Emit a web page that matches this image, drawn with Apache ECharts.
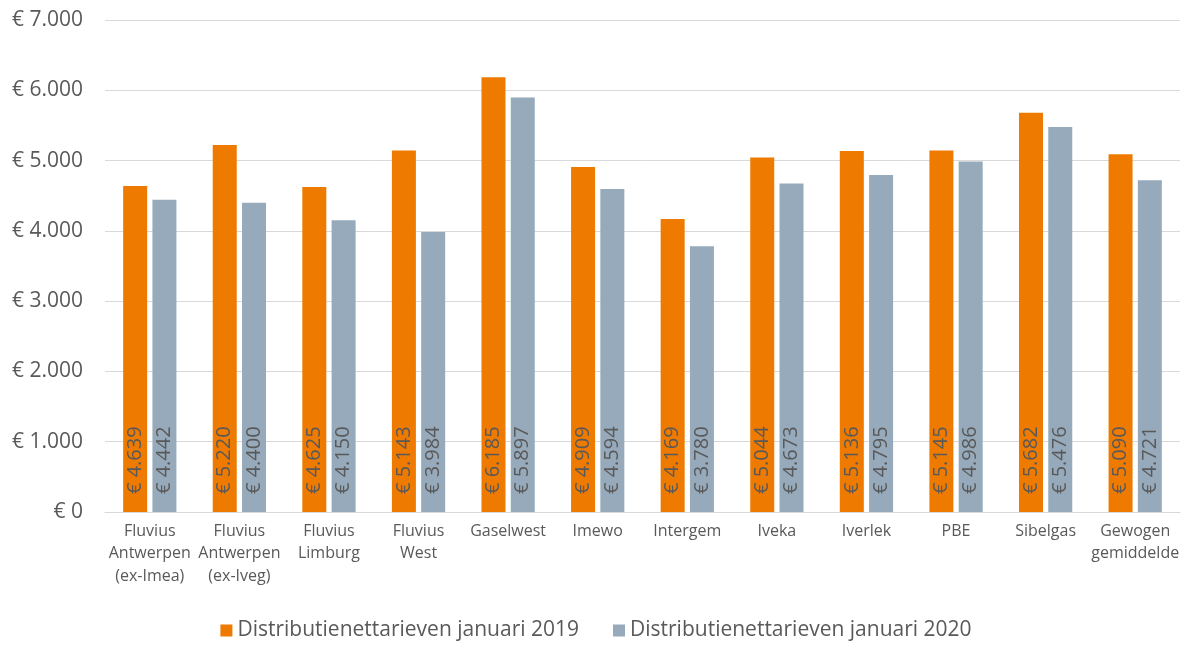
<!DOCTYPE html>
<html>
<head>
<meta charset="utf-8">
<script src="https://cdn.jsdelivr.net/npm/echarts@6/dist/echarts.min.js"></script>
<style>
  html, body { margin: 0; padding: 0; background: #fff; }
  #main { width: 1192px; height: 646px; }
</style>
</head>
<body>
<div id="main"></div>
<script>
var categories = ['Fluvius\nAntwerpen\n(ex-Imea)', 'Fluvius\nAntwerpen\n(ex-Iveg)', 'Fluvius\nLimburg', 'Fluvius\nWest',
  'Gaselwest', 'Imewo', 'Intergem', 'Iveka', 'Iverlek', 'PBE', 'Sibelgas', 'Gewogen\ngemiddelde'];
var tarief2019 = [4639, 5220, 4625, 5143, 6185, 4909, 4169, 5044, 5136, 5145, 5682, 5090];
var tarief2020 = [4442, 4400, 4150, 3984, 5897, 4594, 3780, 4673, 4795, 4986, 5476, 4721];
var seriesNames = ['Distributienettarieven januari 2019', 'Distributienettarieven januari 2020'];

var textColor = '#595959';
var font = 'Open Sans';

// 4639 -> "€ 4.639"
function euro(v) {
  var s = String(Math.round(v));
  s = s.replace(/\B(?=(\d{3})+(?!\d))/g, '.');
  return '€ ' + s;
}

var chart = echarts.init(document.getElementById('main'));

var barLabel = {
  show: true,
  position: 'insideBottom',
  rotate: 90,
  align: 'left',
  verticalAlign: 'middle',
  distance: 18,
  color: textColor,
  fontSize: 20,
  fontFamily: font,
  formatter: function (p) { return euro(p.value); }
};

var option = {
  animation: false,
  textStyle: { fontFamily: font },
  grid: { left: 105, right: 12, top: 20, bottom: 134, containLabel: false },
  legend: {
    bottom: 0,
    left: 'center',
    icon: 'rect',
    itemWidth: 12,
    itemHeight: 12,
    itemGap: 34,
    textStyle: { color: textColor, fontSize: 21, fontFamily: font },
    data: seriesNames
  },
  xAxis: {
    type: 'category',
    data: categories,
    axisTick: { show: false },
    axisLine: { lineStyle: { color: '#d9d9d9', width: 1 } },
    axisLabel: { color: textColor, fontSize: 16, lineHeight: 22.5, margin: 8, interval: 0, fontFamily: font }
  },
  yAxis: {
    type: 'value',
    min: 0,
    max: 7000,
    interval: 1000,
    axisLine: { show: false },
    axisTick: { show: false },
    splitLine: { lineStyle: { color: '#d9d9d9', width: 1 } },
    axisLabel: { color: textColor, fontSize: 21, margin: 22, fontFamily: font, formatter: euro }
  },
  series: [
    {
      name: seriesNames[0],
      type: 'bar',
      data: tarief2019,
      barWidth: 24,
      barGap: '22%',
      itemStyle: { color: '#EE7A00' },
      label: barLabel
    },
    {
      name: seriesNames[1],
      type: 'bar',
      data: tarief2020,
      barWidth: 24,
      itemStyle: { color: '#96AABB' },
      label: barLabel
    }
  ]
};

chart.setOption(option);
</script>
</body>
</html>
